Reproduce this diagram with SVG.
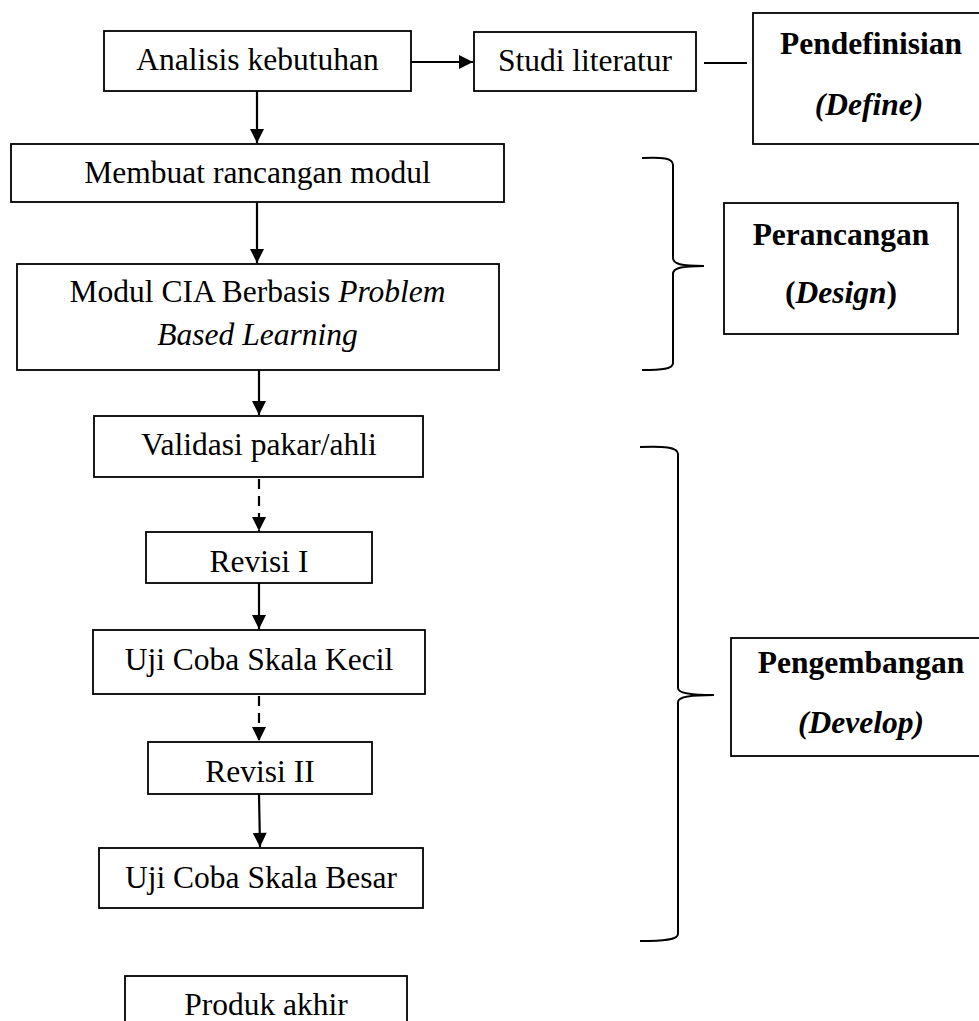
<svg xmlns="http://www.w3.org/2000/svg" width="979" height="1021" viewBox="0 0 979 1021">
<style>
.box{fill:#fff;stroke:#000;stroke-width:1.8}
.t{font-family:"Liberation Serif","Times New Roman",serif;font-size:31.5px;fill:#000;text-anchor:middle}
.b{font-weight:bold}
.i{font-style:italic}
.ln{stroke:#000;stroke-width:2.2;fill:none}
.dash{stroke-dasharray:10 7}
.br{stroke:#000;stroke-width:2;fill:none}
</style>
<defs>
<marker id="ah" markerUnits="userSpaceOnUse" markerWidth="16" markerHeight="16" viewBox="0 0 16 16" refX="15" refY="8" orient="auto">
<path d="M1,1 L15,8 L1,15 Z" fill="#000"/>
</marker>
</defs>
<rect width="979" height="1021" fill="#fff"/>
<g id="connectors">
<line class="ln" x1="257" y1="91" x2="257" y2="143" marker-end="url(#ah)"/>
<line class="ln" x1="411" y1="62" x2="473" y2="62" marker-end="url(#ah)"/>
<line class="ln" x1="704" y1="63" x2="747" y2="63" stroke-width="1.8"/>
<line class="ln" x1="257" y1="202" x2="257" y2="263" marker-end="url(#ah)"/>
<line class="ln" x1="259" y1="370" x2="259" y2="415" marker-end="url(#ah)"/>
<line class="ln dash" x1="259" y1="479" x2="259" y2="531" marker-end="url(#ah)"/>
<line class="ln" x1="259" y1="583" x2="259" y2="629" marker-end="url(#ah)"/>
<line class="ln dash" x1="259" y1="696" x2="259" y2="741" marker-end="url(#ah)"/>
<line class="ln" x1="259" y1="794" x2="260" y2="847" marker-end="url(#ah)"/>
<path class="br" d="M642,158 C662,157 673,158 673,165 L673,258 C673,264 681,266 704,266 C681,266 673,268 673,274 L673,363 C673,369 662,370 642,370"/>
<path class="br" d="M640,447 C663,446 678,447 678,454 L678,688 C678,693 689,695 714,695 C689,695 678,697 678,702 L678,934 C678,940 663,941 640,941"/>
</g>
<g id="n-analisis">
<rect class="box" x="104" y="31" width="307" height="60"/>
<text class="t" x="257.5" y="70">Analisis kebutuhan</text>
</g>
<g id="n-studi">
<rect class="box" x="474" y="32" width="222" height="59"/>
<text class="t" x="585" y="71">Studi literatur</text>
</g>
<g id="n-define">
<rect class="box" x="753" y="13" width="240" height="131"/>
<text class="t b" x="871" y="54">Pendefinisian</text>
<text class="t b i" x="869" y="115">(Define)</text>
</g>
<g id="n-membuat">
<rect class="box" x="11" y="144" width="493" height="58"/>
<text class="t" x="257.5" y="183">Membuat rancangan modul</text>
</g>
<g id="n-modul">
<rect class="box" x="17" y="264" width="482" height="106"/>
<text class="t" x="257.5" y="302">Modul CIA Berbasis <tspan class="i">Problem</tspan></text>
<text class="t i" x="257.5" y="345">Based Learning</text>
</g>
<g id="n-design">
<rect class="box" x="724" y="203" width="234" height="131"/>
<text class="t b" x="841" y="245">Perancangan</text>
<text class="t b" x="841" y="303">(<tspan class="i">Design</tspan>)</text>
</g>
<g id="n-validasi">
<rect class="box" x="94" y="416" width="329" height="61"/>
<text class="t" x="259" y="455">Validasi pakar/ahli</text>
</g>
<g id="n-revisi1">
<rect class="box" x="146" y="532" width="226" height="51"/>
<text class="t" x="259" y="572">Revisi I</text>
</g>
<g id="n-ujikecil">
<rect class="box" x="93" y="630" width="332" height="64"/>
<text class="t" x="259" y="670">Uji Coba Skala Kecil</text>
</g>
<g id="n-revisi2">
<rect class="box" x="148" y="742" width="224" height="52"/>
<text class="t" x="260" y="782">Revisi II</text>
</g>
<g id="n-ujibesar">
<rect class="box" x="99" y="848" width="324" height="60"/>
<text class="t" x="261" y="888">Uji Coba Skala Besar</text>
</g>
<g id="n-produk">
<rect class="box" x="125" y="976" width="282" height="60"/>
<text class="t" x="266" y="1015">Produk akhir</text>
</g>
<g id="n-develop">
<rect class="box" x="731" y="638" width="260" height="118"/>
<text class="t b" x="861" y="673">Pengembangan</text>
<text class="t b i" x="861" y="733">(Develop)</text>
</g>
</svg>
